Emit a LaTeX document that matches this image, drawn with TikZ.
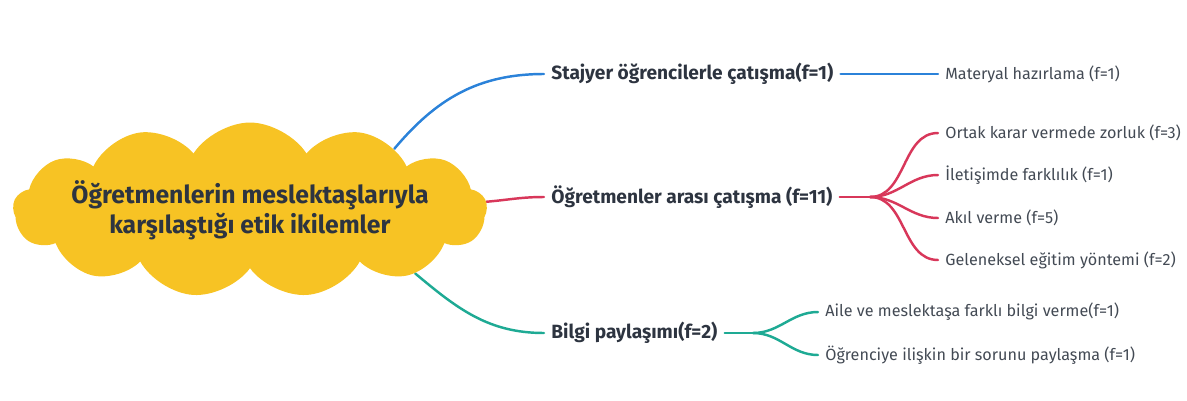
\documentclass[tikz,border=0pt]{standalone}
\usepackage{fontspec}
\setmainfont{Fira Sans}
\usetikzlibrary{shapes.symbols, positioning, backgrounds}

\definecolor{cloudyellow}{HTML}{F7C324}
\definecolor{blueline}{HTML}{2B82D9}
\definecolor{redline}{HTML}{D8375A}
\definecolor{tealline}{HTML}{1EAA94}
\definecolor{inkdark}{HTML}{2D3440}
\definecolor{inkgray}{HTML}{434A54}

\tikzset{
    topic/.style={cloud, cloud puffs=13, cloud puff arc=115, aspect=2.7,
                  fill=cloudyellow, inner sep=0pt,
                  minimum width=9.48cm, minimum height=3.5cm},
    topictext/.style={align=center, text=inkdark,
                      font=\fontsize{14.1}{17}\selectfont\bfseries},
    mainbranch/.style={anchor=west, inner sep=4pt, text=inkdark,
                       font=\fontsize{10.9}{12}\selectfont\bfseries},
    leaf/.style={anchor=west, inner sep=4pt, text=inkgray,
                 font=\fontsize{9.2}{11}\selectfont},
    branch/.style={draw=#1, line width=1.4pt, line cap=round}
}

\begin{document}
\begin{tikzpicture}[x=0.02cm, y=0.02cm]
    \useasboundingbox (0,0) rectangle (1187,-400);

    % central topic
    \node[topic] (root) at (250,-210) {};
    \node[topictext] (roottext) at (root.center)
        {Öğretmenlerin meslektaşlarıyla\\karşılaştığı etik ikilemler};

    % first level
    \node[mainbranch] (staj) at (544,-74) {Stajyer öğrencilerle çatışma(f=1)};
    \node[mainbranch] (ogrt) at (544,-197) {Öğretmenler arası çatışma (f=11)};
    \node[mainbranch] (bilg) at (544,-333) {Bilgi paylaşımı(f=2)};

    % second level
    \node[leaf] (staj_1) at (938,-74) {Materyal hazırlama (f=1)};

    \node[leaf] (ogrt_1) at (938,-133) {Ortak karar vermede zorluk (f=3)};
    \node[leaf] (ogrt_2) at (938,-175) {İletişimde farklılık (f=1)};
    \node[leaf] (ogrt_3) at (938,-218) {Akıl verme (f=5)};
    \node[leaf] (ogrt_4) at (938,-260) {Geleneksel eğitim yöntemi (f=2)};

    \node[leaf] (bilg_1) at (818,-312) {Aile ve meslektaşa farklı bilgi verme(f=1)};
    \node[leaf] (bilg_2) at (818,-355) {Öğrenciye ilişkin bir sorunu paylaşma (f=1)};

    \coordinate (ogrt_fork) at (870,-197);
    \coordinate (bilg_fork) at (753,-333);

    \begin{scope}[on background layer]
        \path[branch=blueline]
            (root.23) edge [out=50, in=180] (staj.west)
            (staj.east) edge (staj_1.west);
        \path[branch=redline]
            (root.2) edge [out=5, in=180] (ogrt.west)
            (ogrt.east) edge (ogrt_fork)
            (ogrt_fork) edge [out=0, in=180] (ogrt_1.west)
                        edge [out=0, in=180] (ogrt_2.west)
                        edge [out=0, in=180] (ogrt_3.west)
                        edge [out=0, in=180] (ogrt_4.west);
        \path[branch=tealline]
            (root.-21) edge [out=-40, in=180] (bilg.west)
            (bilg.east) edge (bilg_fork)
            (bilg_fork) edge [out=0, in=180] (bilg_1.west)
                        edge [out=0, in=180] (bilg_2.west);
    \end{scope}
\end{tikzpicture}
\end{document}
